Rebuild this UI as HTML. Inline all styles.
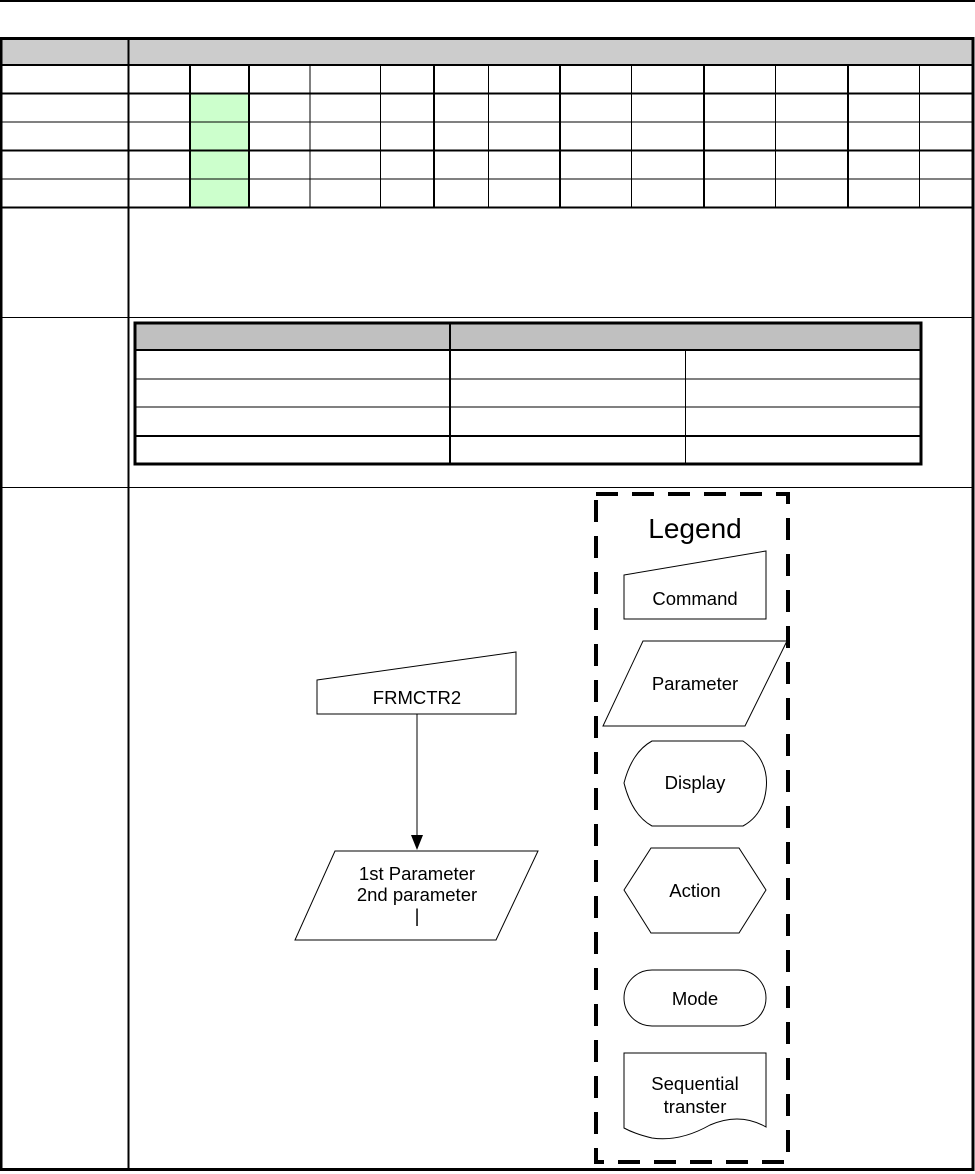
<!DOCTYPE html>
<html><head><style>
html,body{margin:0;padding:0;background:#fff;}
svg{display:block;}
text{font-family:"Liberation Sans",Arial,sans-serif;fill:#000;}
</style></head><body>
<svg width="975" height="1174" viewBox="0 0 975 1174" xmlns="http://www.w3.org/2000/svg">
<rect x="0" y="0" width="975" height="1174" fill="#fff"/>
<line x1="0" y1="1" x2="975" y2="1" stroke="#000" stroke-width="2"/>
<rect x="1" y="39" width="972" height="26" fill="#cccccc"/>
<rect x="190" y="94" width="59" height="113" fill="#ccffcc"/>
<rect x="1" y="38.5" width="972" height="1131" fill="none" stroke="#000" stroke-width="3"/>
<line x1="128.5" y1="38" x2="128.5" y2="1170" stroke="#000" stroke-width="2"/>
<g stroke="#000">
<line x1="0" y1="65" x2="974" y2="65" stroke-width="2"/>
<line x1="0" y1="93.5" x2="974" y2="93.5" stroke-width="2"/>
<line x1="0" y1="122" x2="974" y2="122" stroke-width="1"/>
<line x1="0" y1="150.5" x2="974" y2="150.5" stroke-width="2"/>
<line x1="0" y1="179" x2="974" y2="179" stroke-width="1"/>
<line x1="0" y1="207.5" x2="974" y2="207.5" stroke-width="2"/>
<line x1="0" y1="317.5" x2="974" y2="317.5" stroke-width="1"/>
<line x1="0" y1="487.5" x2="974" y2="487.5" stroke-width="1"/>
<line x1="190" y1="65" x2="190" y2="207" stroke-width="2"/>
<line x1="249" y1="65" x2="249" y2="207" stroke-width="2"/>
<line x1="310" y1="65" x2="310" y2="207" stroke-width="1"/>
<line x1="380.5" y1="65" x2="380.5" y2="207" stroke-width="1"/>
<line x1="434" y1="65" x2="434" y2="207" stroke-width="2"/>
<line x1="488.5" y1="65" x2="488.5" y2="207" stroke-width="1"/>
<line x1="560" y1="65" x2="560" y2="207" stroke-width="2"/>
<line x1="631.5" y1="65" x2="631.5" y2="207" stroke-width="1"/>
<line x1="704" y1="65" x2="704" y2="207" stroke-width="2"/>
<line x1="775.5" y1="65" x2="775.5" y2="207" stroke-width="1"/>
<line x1="848" y1="65" x2="848" y2="207" stroke-width="2"/>
<line x1="919.5" y1="65" x2="919.5" y2="207" stroke-width="1"/>
</g>
<rect x="135" y="323" width="786" height="27" fill="#c0c0c0"/>
<g stroke="#000">
<rect x="135" y="323" width="786" height="141" fill="none" stroke-width="3"/>
<line x1="135" y1="350" x2="921" y2="350" stroke-width="2"/>
<line x1="135" y1="379" x2="921" y2="379" stroke-width="1"/>
<line x1="135" y1="407" x2="921" y2="407" stroke-width="1"/>
<line x1="135" y1="436" x2="921" y2="436" stroke-width="2"/>
<line x1="450" y1="323" x2="450" y2="464" stroke-width="2"/>
<line x1="685.5" y1="350" x2="685.5" y2="464" stroke-width="1"/>
</g>
<rect x="596" y="494" width="192" height="668" fill="none" stroke="#000" stroke-width="4" stroke-dasharray="22,14"/>
<text x="695" y="538" font-size="28" text-anchor="middle">Legend</text>
<g fill="#fff" stroke="#000" stroke-width="1">
<polygon points="624,575 766,551 766,619 624,619"/>
<polygon points="643,641 787,641 745,726 603,726"/>
<path d="M652,741 L743,741 Q770,760 766,790 Q763,815 743,826 L652,826 Q632,815 624,783 Q632,752 652,741 Z"/>
<polygon points="624,890 651,848 739,848 766,890 739,933 651,933"/>
<rect x="624" y="970" width="142" height="56" rx="28" ry="28"/>
<path d="M624,1053 L766,1053 L766,1127 Q740,1112 710,1125 Q680,1142 652,1138 Q635,1134 624,1128 Z"/>
<polygon points="317,680 516,652 516,714 317,714"/>
<polygon points="335,851 538,851 496,940 295,940"/>
</g>
<g font-size="18.5" text-anchor="middle">
<text x="695" y="605">Command</text>
<text x="695" y="690">Parameter</text>
<text x="695" y="789">Display</text>
<text x="695" y="897">Action</text>
<text x="695" y="1005">Mode</text>
<text x="695" y="1090">Sequential</text>
<text x="695" y="1113">transter</text>
<text x="417" y="704">FRMCTR2</text>
<text x="417" y="880">1st Parameter</text>
<text x="417" y="901">2nd parameter</text>
<text x="417" y="922">|</text>
</g>
<line x1="417" y1="714" x2="417" y2="836" stroke="#000" stroke-width="1"/>
<polygon points="411,835 423,835 417,850" fill="#000"/>
</svg>
</body></html>
